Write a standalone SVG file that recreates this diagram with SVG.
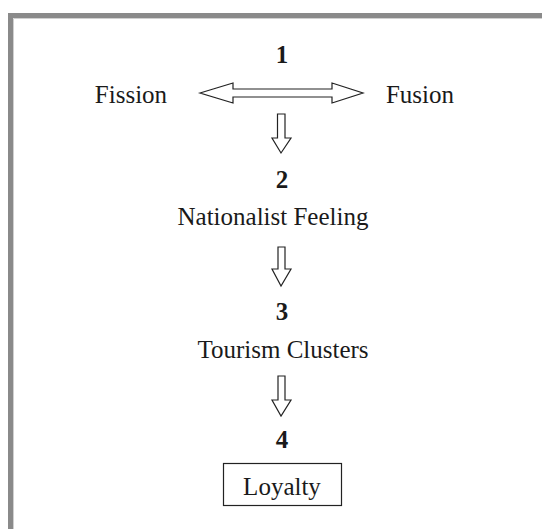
<svg xmlns="http://www.w3.org/2000/svg" width="542" height="529" viewBox="0 0 542 529">
<style>
text{font-family:'Liberation Serif','Times New Roman',Times,serif;font-size:25px;fill:#1a1a1a;text-anchor:middle}
.n{font-weight:bold}
.a{fill:#fff;stroke:#222;stroke-width:1.2;stroke-linejoin:miter}
</style>
<rect width="542" height="529" fill="#fff"/>
<g id="frame">
<rect x="10.5" y="15.5" width="560" height="540" fill="none" stroke="#8a8a8a" stroke-width="5"/>
<line x1="13.5" y1="18.5" x2="542" y2="18.5" stroke="#d0d0d0" stroke-width="1"/>
<line x1="13.5" y1="18.5" x2="13.5" y2="529" stroke="#d0d0d0" stroke-width="1"/>
</g>
<g id="node1">
<text class="n" x="282" y="63">1</text>
</g>
<g id="fission"><text x="131" y="103">Fission</text></g>
<g id="fusion"><text x="420" y="103">Fusion</text></g>
<g id="node2">
<text class="n" x="282" y="188">2</text>
<text x="273" y="225">Nationalist Feeling</text>
</g>
<g id="node3">
<text class="n" x="282" y="320">3</text>
<text x="283" y="358">Tourism Clusters</text>
</g>
<g id="node4">
<text class="n" x="282" y="448">4</text>
<rect x="223.5" y="463.5" width="118" height="42" fill="#fff" stroke="#222" stroke-width="1.2"/>
<text x="282" y="495">Loyalty</text>
</g>
<g id="connectors">
<path class="a" d="M200,93 L233,83 L233,89 L332,89 L332,83 L363,93 L332,103 L332,97 L233,97 L233,103 Z"/>
<path class="a" d="M277.5,114 L285,114 L285,138 L291,138 L281,153 L272,138 L277.5,138 Z"/>
<path class="a" d="M278,247 L285,247 L285,269 L291,269 L281,286 L272,269 L278,269 Z"/>
<path class="a" d="M278,376 L285,376 L285,400 L291,400 L281,416 L272,400 L278,400 Z"/>
</g>
</svg>
